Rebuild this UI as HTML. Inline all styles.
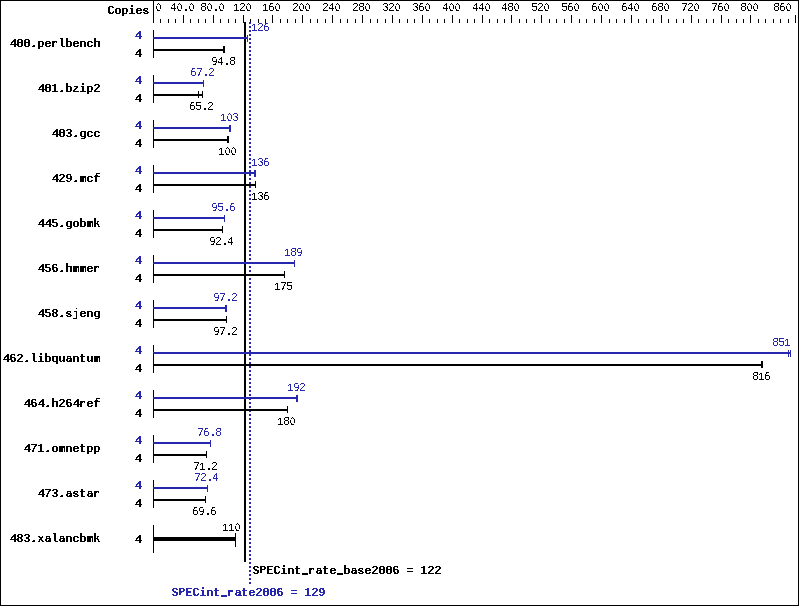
<!DOCTYPE html>
<html><head><meta charset="utf-8"><title>SPECint_rate2006 results</title><style>
html,body{margin:0;padding:0;background:#fff;overflow:hidden}
svg{display:block}
text{font-family:"Liberation Mono",monospace;text-rendering:geometricPrecision}
.z{font-family:"Liberation Sans",sans-serif}
</style></head><body>
<svg width="799" height="606" viewBox="0 0 799 606">
<defs>
<filter id="tr" filterUnits="userSpaceOnUse" x="0" y="0" width="799" height="606"><feComponentTransfer><feFuncA type="discrete" tableValues="0 1"/></feComponentTransfer></filter>
<filter id="tb" filterUnits="userSpaceOnUse" x="0" y="0" width="799" height="606"><feComponentTransfer><feFuncA type="discrete" tableValues="0 1"/></feComponentTransfer></filter>
</defs>
<g shape-rendering="crispEdges">
<rect x="0" y="0" width="799" height="606" fill="#fff"/>
<rect x="0" y="0" width="799" height="1" fill="#000"/>
<rect x="0" y="605" width="799" height="1" fill="#000"/>
<rect x="0" y="0" width="1" height="606" fill="#000"/>
<rect x="798" y="0" width="1" height="606" fill="#000"/>
<rect x="153" y="0" width="1" height="23" fill="#000"/>
<rect x="160" y="19" width="1" height="4" fill="#000"/>
<rect x="168" y="19" width="1" height="4" fill="#000"/>
<rect x="175" y="19" width="1" height="4" fill="#000"/>
<rect x="183" y="15" width="1" height="8" fill="#000"/>
<rect x="190" y="19" width="1" height="4" fill="#000"/>
<rect x="198" y="19" width="1" height="4" fill="#000"/>
<rect x="205" y="19" width="1" height="4" fill="#000"/>
<rect x="213" y="15" width="1" height="8" fill="#000"/>
<rect x="220" y="19" width="1" height="4" fill="#000"/>
<rect x="228" y="19" width="1" height="4" fill="#000"/>
<rect x="235" y="19" width="1" height="4" fill="#000"/>
<rect x="243" y="15" width="1" height="8" fill="#000"/>
<rect x="250" y="19" width="1" height="4" fill="#000"/>
<rect x="258" y="19" width="1" height="4" fill="#000"/>
<rect x="265" y="19" width="1" height="4" fill="#000"/>
<rect x="272" y="15" width="1" height="8" fill="#000"/>
<rect x="280" y="19" width="1" height="4" fill="#000"/>
<rect x="287" y="19" width="1" height="4" fill="#000"/>
<rect x="295" y="19" width="1" height="4" fill="#000"/>
<rect x="302" y="15" width="1" height="8" fill="#000"/>
<rect x="310" y="19" width="1" height="4" fill="#000"/>
<rect x="317" y="19" width="1" height="4" fill="#000"/>
<rect x="325" y="19" width="1" height="4" fill="#000"/>
<rect x="332" y="15" width="1" height="8" fill="#000"/>
<rect x="340" y="19" width="1" height="4" fill="#000"/>
<rect x="347" y="19" width="1" height="4" fill="#000"/>
<rect x="355" y="19" width="1" height="4" fill="#000"/>
<rect x="362" y="15" width="1" height="8" fill="#000"/>
<rect x="370" y="19" width="1" height="4" fill="#000"/>
<rect x="377" y="19" width="1" height="4" fill="#000"/>
<rect x="385" y="19" width="1" height="4" fill="#000"/>
<rect x="392" y="15" width="1" height="8" fill="#000"/>
<rect x="399" y="19" width="1" height="4" fill="#000"/>
<rect x="407" y="19" width="1" height="4" fill="#000"/>
<rect x="414" y="19" width="1" height="4" fill="#000"/>
<rect x="422" y="15" width="1" height="8" fill="#000"/>
<rect x="429" y="19" width="1" height="4" fill="#000"/>
<rect x="437" y="19" width="1" height="4" fill="#000"/>
<rect x="444" y="19" width="1" height="4" fill="#000"/>
<rect x="452" y="15" width="1" height="8" fill="#000"/>
<rect x="459" y="19" width="1" height="4" fill="#000"/>
<rect x="467" y="19" width="1" height="4" fill="#000"/>
<rect x="474" y="19" width="1" height="4" fill="#000"/>
<rect x="482" y="15" width="1" height="8" fill="#000"/>
<rect x="489" y="19" width="1" height="4" fill="#000"/>
<rect x="497" y="19" width="1" height="4" fill="#000"/>
<rect x="504" y="19" width="1" height="4" fill="#000"/>
<rect x="511" y="15" width="1" height="8" fill="#000"/>
<rect x="519" y="19" width="1" height="4" fill="#000"/>
<rect x="526" y="19" width="1" height="4" fill="#000"/>
<rect x="534" y="19" width="1" height="4" fill="#000"/>
<rect x="541" y="15" width="1" height="8" fill="#000"/>
<rect x="549" y="19" width="1" height="4" fill="#000"/>
<rect x="556" y="19" width="1" height="4" fill="#000"/>
<rect x="564" y="19" width="1" height="4" fill="#000"/>
<rect x="571" y="15" width="1" height="8" fill="#000"/>
<rect x="579" y="19" width="1" height="4" fill="#000"/>
<rect x="586" y="19" width="1" height="4" fill="#000"/>
<rect x="594" y="19" width="1" height="4" fill="#000"/>
<rect x="601" y="15" width="1" height="8" fill="#000"/>
<rect x="609" y="19" width="1" height="4" fill="#000"/>
<rect x="616" y="19" width="1" height="4" fill="#000"/>
<rect x="624" y="19" width="1" height="4" fill="#000"/>
<rect x="631" y="15" width="1" height="8" fill="#000"/>
<rect x="638" y="19" width="1" height="4" fill="#000"/>
<rect x="646" y="19" width="1" height="4" fill="#000"/>
<rect x="653" y="19" width="1" height="4" fill="#000"/>
<rect x="661" y="15" width="1" height="8" fill="#000"/>
<rect x="668" y="19" width="1" height="4" fill="#000"/>
<rect x="676" y="19" width="1" height="4" fill="#000"/>
<rect x="683" y="19" width="1" height="4" fill="#000"/>
<rect x="691" y="15" width="1" height="8" fill="#000"/>
<rect x="698" y="19" width="1" height="4" fill="#000"/>
<rect x="706" y="19" width="1" height="4" fill="#000"/>
<rect x="713" y="19" width="1" height="4" fill="#000"/>
<rect x="721" y="15" width="1" height="8" fill="#000"/>
<rect x="728" y="19" width="1" height="4" fill="#000"/>
<rect x="736" y="19" width="1" height="4" fill="#000"/>
<rect x="743" y="19" width="1" height="4" fill="#000"/>
<rect x="750" y="15" width="1" height="8" fill="#000"/>
<rect x="758" y="19" width="1" height="4" fill="#000"/>
<rect x="765" y="19" width="1" height="4" fill="#000"/>
<rect x="773" y="19" width="1" height="4" fill="#000"/>
<rect x="780" y="19" width="1" height="4" fill="#000"/>
<rect x="788" y="19" width="1" height="4" fill="#000"/>
<rect x="795" y="15" width="1" height="8" fill="#000"/>
<rect x="244" y="22" width="2" height="540" fill="#000"/>
<rect x="249" y="22" width="2" height="2" fill="#2626ae"/>
<rect x="249" y="26" width="2" height="2" fill="#2626ae"/>
<rect x="249" y="30" width="2" height="2" fill="#2626ae"/>
<rect x="249" y="34" width="2" height="2" fill="#2626ae"/>
<rect x="249" y="38" width="2" height="2" fill="#2626ae"/>
<rect x="249" y="42" width="2" height="2" fill="#2626ae"/>
<rect x="249" y="46" width="2" height="2" fill="#2626ae"/>
<rect x="249" y="50" width="2" height="2" fill="#2626ae"/>
<rect x="249" y="54" width="2" height="2" fill="#2626ae"/>
<rect x="249" y="58" width="2" height="2" fill="#2626ae"/>
<rect x="249" y="62" width="2" height="2" fill="#2626ae"/>
<rect x="249" y="66" width="2" height="2" fill="#2626ae"/>
<rect x="249" y="70" width="2" height="2" fill="#2626ae"/>
<rect x="249" y="74" width="2" height="2" fill="#2626ae"/>
<rect x="249" y="78" width="2" height="2" fill="#2626ae"/>
<rect x="249" y="82" width="2" height="2" fill="#2626ae"/>
<rect x="249" y="86" width="2" height="2" fill="#2626ae"/>
<rect x="249" y="90" width="2" height="2" fill="#2626ae"/>
<rect x="249" y="94" width="2" height="2" fill="#2626ae"/>
<rect x="249" y="98" width="2" height="2" fill="#2626ae"/>
<rect x="249" y="102" width="2" height="2" fill="#2626ae"/>
<rect x="249" y="106" width="2" height="2" fill="#2626ae"/>
<rect x="249" y="110" width="2" height="2" fill="#2626ae"/>
<rect x="249" y="114" width="2" height="2" fill="#2626ae"/>
<rect x="249" y="118" width="2" height="2" fill="#2626ae"/>
<rect x="249" y="122" width="2" height="2" fill="#2626ae"/>
<rect x="249" y="126" width="2" height="2" fill="#2626ae"/>
<rect x="249" y="130" width="2" height="2" fill="#2626ae"/>
<rect x="249" y="134" width="2" height="2" fill="#2626ae"/>
<rect x="249" y="138" width="2" height="2" fill="#2626ae"/>
<rect x="249" y="142" width="2" height="2" fill="#2626ae"/>
<rect x="249" y="146" width="2" height="2" fill="#2626ae"/>
<rect x="249" y="150" width="2" height="2" fill="#2626ae"/>
<rect x="249" y="154" width="2" height="2" fill="#2626ae"/>
<rect x="249" y="158" width="2" height="2" fill="#2626ae"/>
<rect x="249" y="162" width="2" height="2" fill="#2626ae"/>
<rect x="249" y="166" width="2" height="2" fill="#2626ae"/>
<rect x="249" y="170" width="2" height="2" fill="#2626ae"/>
<rect x="249" y="174" width="2" height="2" fill="#2626ae"/>
<rect x="249" y="178" width="2" height="2" fill="#2626ae"/>
<rect x="249" y="182" width="2" height="2" fill="#2626ae"/>
<rect x="249" y="186" width="2" height="2" fill="#2626ae"/>
<rect x="249" y="190" width="2" height="2" fill="#2626ae"/>
<rect x="249" y="194" width="2" height="2" fill="#2626ae"/>
<rect x="249" y="198" width="2" height="2" fill="#2626ae"/>
<rect x="249" y="202" width="2" height="2" fill="#2626ae"/>
<rect x="249" y="206" width="2" height="2" fill="#2626ae"/>
<rect x="249" y="210" width="2" height="2" fill="#2626ae"/>
<rect x="249" y="214" width="2" height="2" fill="#2626ae"/>
<rect x="249" y="218" width="2" height="2" fill="#2626ae"/>
<rect x="249" y="222" width="2" height="2" fill="#2626ae"/>
<rect x="249" y="226" width="2" height="2" fill="#2626ae"/>
<rect x="249" y="230" width="2" height="2" fill="#2626ae"/>
<rect x="249" y="234" width="2" height="2" fill="#2626ae"/>
<rect x="249" y="238" width="2" height="2" fill="#2626ae"/>
<rect x="249" y="242" width="2" height="2" fill="#2626ae"/>
<rect x="249" y="246" width="2" height="2" fill="#2626ae"/>
<rect x="249" y="250" width="2" height="2" fill="#2626ae"/>
<rect x="249" y="254" width="2" height="2" fill="#2626ae"/>
<rect x="249" y="258" width="2" height="2" fill="#2626ae"/>
<rect x="249" y="262" width="2" height="2" fill="#2626ae"/>
<rect x="249" y="266" width="2" height="2" fill="#2626ae"/>
<rect x="249" y="270" width="2" height="2" fill="#2626ae"/>
<rect x="249" y="274" width="2" height="2" fill="#2626ae"/>
<rect x="249" y="278" width="2" height="2" fill="#2626ae"/>
<rect x="249" y="282" width="2" height="2" fill="#2626ae"/>
<rect x="249" y="286" width="2" height="2" fill="#2626ae"/>
<rect x="249" y="290" width="2" height="2" fill="#2626ae"/>
<rect x="249" y="294" width="2" height="2" fill="#2626ae"/>
<rect x="249" y="298" width="2" height="2" fill="#2626ae"/>
<rect x="249" y="302" width="2" height="2" fill="#2626ae"/>
<rect x="249" y="306" width="2" height="2" fill="#2626ae"/>
<rect x="249" y="310" width="2" height="2" fill="#2626ae"/>
<rect x="249" y="314" width="2" height="2" fill="#2626ae"/>
<rect x="249" y="318" width="2" height="2" fill="#2626ae"/>
<rect x="249" y="322" width="2" height="2" fill="#2626ae"/>
<rect x="249" y="326" width="2" height="2" fill="#2626ae"/>
<rect x="249" y="330" width="2" height="2" fill="#2626ae"/>
<rect x="249" y="334" width="2" height="2" fill="#2626ae"/>
<rect x="249" y="338" width="2" height="2" fill="#2626ae"/>
<rect x="249" y="342" width="2" height="2" fill="#2626ae"/>
<rect x="249" y="346" width="2" height="2" fill="#2626ae"/>
<rect x="249" y="350" width="2" height="2" fill="#2626ae"/>
<rect x="249" y="354" width="2" height="2" fill="#2626ae"/>
<rect x="249" y="358" width="2" height="2" fill="#2626ae"/>
<rect x="249" y="362" width="2" height="2" fill="#2626ae"/>
<rect x="249" y="366" width="2" height="2" fill="#2626ae"/>
<rect x="249" y="370" width="2" height="2" fill="#2626ae"/>
<rect x="249" y="374" width="2" height="2" fill="#2626ae"/>
<rect x="249" y="378" width="2" height="2" fill="#2626ae"/>
<rect x="249" y="382" width="2" height="2" fill="#2626ae"/>
<rect x="249" y="386" width="2" height="2" fill="#2626ae"/>
<rect x="249" y="390" width="2" height="2" fill="#2626ae"/>
<rect x="249" y="394" width="2" height="2" fill="#2626ae"/>
<rect x="249" y="398" width="2" height="2" fill="#2626ae"/>
<rect x="249" y="402" width="2" height="2" fill="#2626ae"/>
<rect x="249" y="406" width="2" height="2" fill="#2626ae"/>
<rect x="249" y="410" width="2" height="2" fill="#2626ae"/>
<rect x="249" y="414" width="2" height="2" fill="#2626ae"/>
<rect x="249" y="418" width="2" height="2" fill="#2626ae"/>
<rect x="249" y="422" width="2" height="2" fill="#2626ae"/>
<rect x="249" y="426" width="2" height="2" fill="#2626ae"/>
<rect x="249" y="430" width="2" height="2" fill="#2626ae"/>
<rect x="249" y="434" width="2" height="2" fill="#2626ae"/>
<rect x="249" y="438" width="2" height="2" fill="#2626ae"/>
<rect x="249" y="442" width="2" height="2" fill="#2626ae"/>
<rect x="249" y="446" width="2" height="2" fill="#2626ae"/>
<rect x="249" y="450" width="2" height="2" fill="#2626ae"/>
<rect x="249" y="454" width="2" height="2" fill="#2626ae"/>
<rect x="249" y="458" width="2" height="2" fill="#2626ae"/>
<rect x="249" y="462" width="2" height="2" fill="#2626ae"/>
<rect x="249" y="466" width="2" height="2" fill="#2626ae"/>
<rect x="249" y="470" width="2" height="2" fill="#2626ae"/>
<rect x="249" y="474" width="2" height="2" fill="#2626ae"/>
<rect x="249" y="478" width="2" height="2" fill="#2626ae"/>
<rect x="249" y="482" width="2" height="2" fill="#2626ae"/>
<rect x="249" y="486" width="2" height="2" fill="#2626ae"/>
<rect x="249" y="490" width="2" height="2" fill="#2626ae"/>
<rect x="249" y="494" width="2" height="2" fill="#2626ae"/>
<rect x="249" y="498" width="2" height="2" fill="#2626ae"/>
<rect x="249" y="502" width="2" height="2" fill="#2626ae"/>
<rect x="249" y="506" width="2" height="2" fill="#2626ae"/>
<rect x="249" y="510" width="2" height="2" fill="#2626ae"/>
<rect x="249" y="514" width="2" height="2" fill="#2626ae"/>
<rect x="249" y="518" width="2" height="2" fill="#2626ae"/>
<rect x="249" y="522" width="2" height="2" fill="#2626ae"/>
<rect x="249" y="526" width="2" height="2" fill="#2626ae"/>
<rect x="249" y="530" width="2" height="2" fill="#2626ae"/>
<rect x="249" y="534" width="2" height="2" fill="#2626ae"/>
<rect x="249" y="538" width="2" height="2" fill="#2626ae"/>
<rect x="249" y="542" width="2" height="2" fill="#2626ae"/>
<rect x="249" y="546" width="2" height="2" fill="#2626ae"/>
<rect x="249" y="550" width="2" height="2" fill="#2626ae"/>
<rect x="249" y="554" width="2" height="2" fill="#2626ae"/>
<rect x="249" y="558" width="2" height="2" fill="#2626ae"/>
<rect x="249" y="562" width="2" height="2" fill="#2626ae"/>
<rect x="249" y="566" width="2" height="2" fill="#2626ae"/>
<rect x="249" y="570" width="2" height="2" fill="#2626ae"/>
<rect x="249" y="574" width="2" height="2" fill="#2626ae"/>
<rect x="249" y="578" width="2" height="2" fill="#2626ae"/>
<rect x="249" y="582" width="2" height="2" fill="#2626ae"/>
<rect x="153" y="30" width="1" height="28" fill="#000"/>
<rect x="153" y="37" width="95" height="2" fill="#2626ae"/>
<rect x="247" y="35" width="1" height="7" fill="#2626ae"/>
<rect x="153" y="49" width="72" height="2" fill="#000"/>
<rect x="223" y="46" width="1" height="7" fill="#000"/>
<rect x="224" y="46" width="1" height="7" fill="#000"/>
<rect x="153" y="75" width="1" height="28" fill="#000"/>
<rect x="153" y="82" width="51" height="2" fill="#2626ae"/>
<rect x="203" y="80" width="1" height="7" fill="#2626ae"/>
<rect x="153" y="94" width="50" height="2" fill="#000"/>
<rect x="198" y="91" width="1" height="7" fill="#000"/>
<rect x="202" y="91" width="1" height="7" fill="#000"/>
<rect x="153" y="120" width="1" height="28" fill="#000"/>
<rect x="153" y="127" width="78" height="2" fill="#2626ae"/>
<rect x="229" y="125" width="1" height="7" fill="#2626ae"/>
<rect x="230" y="125" width="1" height="7" fill="#2626ae"/>
<rect x="153" y="139" width="76" height="2" fill="#000"/>
<rect x="227" y="136" width="1" height="7" fill="#000"/>
<rect x="228" y="136" width="1" height="7" fill="#000"/>
<rect x="153" y="165" width="1" height="28" fill="#000"/>
<rect x="153" y="172" width="103" height="2" fill="#2626ae"/>
<rect x="254" y="170" width="1" height="7" fill="#2626ae"/>
<rect x="255" y="170" width="1" height="7" fill="#2626ae"/>
<rect x="153" y="184" width="103" height="2" fill="#000"/>
<rect x="255" y="181" width="1" height="7" fill="#000"/>
<rect x="153" y="210" width="1" height="28" fill="#000"/>
<rect x="153" y="217" width="72" height="2" fill="#2626ae"/>
<rect x="224" y="215" width="1" height="7" fill="#2626ae"/>
<rect x="153" y="229" width="70" height="2" fill="#000"/>
<rect x="222" y="226" width="1" height="7" fill="#000"/>
<rect x="153" y="255" width="1" height="28" fill="#000"/>
<rect x="153" y="262" width="142" height="2" fill="#2626ae"/>
<rect x="294" y="260" width="1" height="7" fill="#2626ae"/>
<rect x="153" y="274" width="132" height="2" fill="#000"/>
<rect x="284" y="271" width="1" height="7" fill="#000"/>
<rect x="153" y="300" width="1" height="28" fill="#000"/>
<rect x="153" y="307" width="74" height="2" fill="#2626ae"/>
<rect x="225" y="305" width="1" height="7" fill="#2626ae"/>
<rect x="226" y="305" width="1" height="7" fill="#2626ae"/>
<rect x="153" y="319" width="74" height="2" fill="#000"/>
<rect x="226" y="316" width="1" height="7" fill="#000"/>
<rect x="153" y="345" width="1" height="28" fill="#000"/>
<rect x="153" y="352" width="638" height="2" fill="#2626ae"/>
<rect x="788" y="350" width="1" height="7" fill="#2626ae"/>
<rect x="790" y="350" width="1" height="7" fill="#2626ae"/>
<rect x="153" y="364" width="610" height="2" fill="#000"/>
<rect x="761" y="361" width="1" height="7" fill="#000"/>
<rect x="762" y="361" width="1" height="7" fill="#000"/>
<rect x="153" y="390" width="1" height="28" fill="#000"/>
<rect x="153" y="397" width="145" height="2" fill="#2626ae"/>
<rect x="296" y="395" width="1" height="7" fill="#2626ae"/>
<rect x="297" y="395" width="1" height="7" fill="#2626ae"/>
<rect x="153" y="409" width="135" height="2" fill="#000"/>
<rect x="287" y="406" width="1" height="7" fill="#000"/>
<rect x="153" y="435" width="1" height="28" fill="#000"/>
<rect x="153" y="442" width="58" height="2" fill="#2626ae"/>
<rect x="210" y="440" width="1" height="7" fill="#2626ae"/>
<rect x="153" y="454" width="54" height="2" fill="#000"/>
<rect x="206" y="451" width="1" height="7" fill="#000"/>
<rect x="153" y="480" width="1" height="28" fill="#000"/>
<rect x="153" y="487" width="55" height="2" fill="#2626ae"/>
<rect x="207" y="485" width="1" height="7" fill="#2626ae"/>
<rect x="153" y="499" width="53" height="2" fill="#000"/>
<rect x="205" y="496" width="1" height="7" fill="#000"/>
<rect x="153" y="525" width="1" height="28" fill="#000"/>
<rect x="153" y="537" width="83" height="4" fill="#000"/>
<rect x="235" y="533" width="1" height="14" fill="#000"/>
</g>
<g filter="url(#tr)" font-size="12.1">
<g><text class="z" transform="translate(156.0 0) scale(0.85 1)" x="-0.147" y="10.5" font-size="11">0</text></g>
<g><text transform="translate(171.0 0) scale(0.9 1)" x="-1.250" y="10.5" font-size="12">4</text><text class="z" transform="translate(177.0 0) scale(0.85 1)" x="-0.147" y="10.5" font-size="11">0</text><text transform="translate(183.0 0) scale(1.0 1)" x="-0.875" y="10.5" font-size="12.5">.</text><text class="z" transform="translate(189.0 0) scale(0.85 1)" x="-0.147" y="10.5" font-size="11">0</text></g>
<g><text transform="translate(201.0 0) scale(0.95 1)" x="-1.184" y="10.5" font-size="12.5">8</text><text class="z" transform="translate(207.0 0) scale(0.85 1)" x="-0.147" y="10.5" font-size="11">0</text><text transform="translate(213.0 0) scale(1.0 1)" x="-0.875" y="10.5" font-size="12.5">.</text><text class="z" transform="translate(219.0 0) scale(0.85 1)" x="-0.147" y="10.5" font-size="11">0</text></g>
<g><text transform="translate(234.0 0) scale(0.95 1)" x="-1.184" y="10.5" font-size="11">1</text><text transform="translate(240.0 0) scale(0.9 1)" x="-1.250" y="10.5" font-size="12.5">2</text><text class="z" transform="translate(246.0 0) scale(0.85 1)" x="-0.147" y="10.5" font-size="11">0</text></g>
<g><text transform="translate(263.0 0) scale(0.95 1)" x="-1.184" y="10.5" font-size="11">1</text><text transform="translate(269.0 0) scale(0.9 1)" x="-0.972" y="10.5" font-size="12">6</text><text class="z" transform="translate(275.0 0) scale(0.85 1)" x="-0.147" y="10.5" font-size="11">0</text></g>
<g><text transform="translate(293.0 0) scale(0.9 1)" x="-1.250" y="10.5" font-size="12.5">2</text><text class="z" transform="translate(299.0 0) scale(0.85 1)" x="-0.147" y="10.5" font-size="11">0</text><text class="z" transform="translate(305.0 0) scale(0.85 1)" x="-0.147" y="10.5" font-size="11">0</text></g>
<g><text transform="translate(323.0 0) scale(0.9 1)" x="-1.250" y="10.5" font-size="12.5">2</text><text transform="translate(329.0 0) scale(0.9 1)" x="-1.250" y="10.5" font-size="12">4</text><text class="z" transform="translate(335.0 0) scale(0.85 1)" x="-0.147" y="10.5" font-size="11">0</text></g>
<g><text transform="translate(353.0 0) scale(0.9 1)" x="-1.250" y="10.5" font-size="12.5">2</text><text transform="translate(359.0 0) scale(0.95 1)" x="-1.184" y="10.5" font-size="12.5">8</text><text class="z" transform="translate(365.0 0) scale(0.85 1)" x="-0.147" y="10.5" font-size="11">0</text></g>
<g><text transform="translate(383.0 0) scale(0.85 1)" x="-0.735" y="10.5" font-size="12.5">3</text><text transform="translate(389.0 0) scale(0.9 1)" x="-1.250" y="10.5" font-size="12.5">2</text><text class="z" transform="translate(395.0 0) scale(0.85 1)" x="-0.147" y="10.5" font-size="11">0</text></g>
<g><text transform="translate(413.0 0) scale(0.85 1)" x="-0.735" y="10.5" font-size="12.5">3</text><text transform="translate(419.0 0) scale(0.9 1)" x="-0.972" y="10.5" font-size="12">6</text><text class="z" transform="translate(425.0 0) scale(0.85 1)" x="-0.147" y="10.5" font-size="11">0</text></g>
<g><text transform="translate(443.0 0) scale(0.9 1)" x="-1.250" y="10.5" font-size="12">4</text><text class="z" transform="translate(449.0 0) scale(0.85 1)" x="-0.147" y="10.5" font-size="11">0</text><text class="z" transform="translate(455.0 0) scale(0.85 1)" x="-0.147" y="10.5" font-size="11">0</text></g>
<g><text transform="translate(473.0 0) scale(0.9 1)" x="-1.250" y="10.5" font-size="12">4</text><text transform="translate(479.0 0) scale(0.9 1)" x="-1.250" y="10.5" font-size="12">4</text><text class="z" transform="translate(485.0 0) scale(0.85 1)" x="-0.147" y="10.5" font-size="11">0</text></g>
<g><text transform="translate(502.0 0) scale(0.9 1)" x="-1.250" y="10.5" font-size="12">4</text><text transform="translate(508.0 0) scale(0.95 1)" x="-1.184" y="10.5" font-size="12.5">8</text><text class="z" transform="translate(514.0 0) scale(0.85 1)" x="-0.147" y="10.5" font-size="11">0</text></g>
<g><text transform="translate(532.0 0) scale(0.95 1)" x="-1.184" y="10.5" font-size="12.5">5</text><text transform="translate(538.0 0) scale(0.9 1)" x="-1.250" y="10.5" font-size="12.5">2</text><text class="z" transform="translate(544.0 0) scale(0.85 1)" x="-0.147" y="10.5" font-size="11">0</text></g>
<g><text transform="translate(562.0 0) scale(0.95 1)" x="-1.184" y="10.5" font-size="12.5">5</text><text transform="translate(568.0 0) scale(0.9 1)" x="-0.972" y="10.5" font-size="12">6</text><text class="z" transform="translate(574.0 0) scale(0.85 1)" x="-0.147" y="10.5" font-size="11">0</text></g>
<g><text transform="translate(592.0 0) scale(0.9 1)" x="-0.972" y="10.5" font-size="12">6</text><text class="z" transform="translate(598.0 0) scale(0.85 1)" x="-0.147" y="10.5" font-size="11">0</text><text class="z" transform="translate(604.0 0) scale(0.85 1)" x="-0.147" y="10.5" font-size="11">0</text></g>
<g><text transform="translate(622.0 0) scale(0.9 1)" x="-0.972" y="10.5" font-size="12">6</text><text transform="translate(628.0 0) scale(0.9 1)" x="-1.250" y="10.5" font-size="12">4</text><text class="z" transform="translate(634.0 0) scale(0.85 1)" x="-0.147" y="10.5" font-size="11">0</text></g>
<g><text transform="translate(652.0 0) scale(0.9 1)" x="-0.972" y="10.5" font-size="12">6</text><text transform="translate(658.0 0) scale(0.95 1)" x="-1.184" y="10.5" font-size="12.5">8</text><text class="z" transform="translate(664.0 0) scale(0.85 1)" x="-0.147" y="10.5" font-size="11">0</text></g>
<g><text transform="translate(682.0 0) scale(0.95 1)" x="-1.184" y="10.5" font-size="12">7</text><text transform="translate(688.0 0) scale(0.9 1)" x="-1.250" y="10.5" font-size="12.5">2</text><text class="z" transform="translate(694.0 0) scale(0.85 1)" x="-0.147" y="10.5" font-size="11">0</text></g>
<g><text transform="translate(712.0 0) scale(0.95 1)" x="-1.184" y="10.5" font-size="12">7</text><text transform="translate(718.0 0) scale(0.9 1)" x="-0.972" y="10.5" font-size="12">6</text><text class="z" transform="translate(724.0 0) scale(0.85 1)" x="-0.147" y="10.5" font-size="11">0</text></g>
<g><text transform="translate(741.0 0) scale(0.95 1)" x="-1.184" y="10.5" font-size="12.5">8</text><text class="z" transform="translate(747.0 0) scale(0.85 1)" x="-0.147" y="10.5" font-size="11">0</text><text class="z" transform="translate(753.0 0) scale(0.85 1)" x="-0.147" y="10.5" font-size="11">0</text></g>
<g><text transform="translate(774.0 0) scale(0.95 1)" x="-1.184" y="10.5" font-size="12.5">8</text><text transform="translate(780.0 0) scale(0.9 1)" x="-0.972" y="10.5" font-size="12">6</text><text class="z" transform="translate(786.0 0) scale(0.85 1)" x="-0.147" y="10.5" font-size="11">0</text></g>
<g><text transform="translate(252.0 0) scale(0.95 1)" x="-1.184" y="30.5" font-size="11" fill="#2626ae">1</text><text transform="translate(258.0 0) scale(0.9 1)" x="-1.250" y="30.5" font-size="12.5" fill="#2626ae">2</text><text transform="translate(264.0 0) scale(0.9 1)" x="-0.972" y="30.5" font-size="12" fill="#2626ae">6</text></g>
<g><text transform="translate(212.0 0) scale(0.8 1)" x="-0.781" y="64.5" font-size="12.5">9</text><text transform="translate(218.0 0) scale(0.9 1)" x="-1.250" y="64.5" font-size="12">4</text><text transform="translate(224.0 0) scale(1.0 1)" x="-0.875" y="64.5" font-size="12.5">.</text><text transform="translate(230.0 0) scale(0.95 1)" x="-1.184" y="64.5" font-size="12.5">8</text></g>
<g><text transform="translate(191.0 0) scale(0.9 1)" x="-0.972" y="75.5" font-size="12" fill="#2626ae">6</text><text transform="translate(197.0 0) scale(0.95 1)" x="-1.184" y="75.5" font-size="12" fill="#2626ae">7</text><text transform="translate(203.0 0) scale(1.0 1)" x="-0.875" y="75.5" font-size="12.5" fill="#2626ae">.</text><text transform="translate(209.0 0) scale(0.9 1)" x="-1.250" y="75.5" font-size="12.5" fill="#2626ae">2</text></g>
<g><text transform="translate(190.0 0) scale(0.9 1)" x="-0.972" y="109.5" font-size="12">6</text><text transform="translate(196.0 0) scale(0.95 1)" x="-1.184" y="109.5" font-size="12.5">5</text><text transform="translate(202.0 0) scale(1.0 1)" x="-0.875" y="109.5" font-size="12.5">.</text><text transform="translate(208.0 0) scale(0.9 1)" x="-1.250" y="109.5" font-size="12.5">2</text></g>
<g><text transform="translate(221.0 0) scale(0.95 1)" x="-1.184" y="120.5" font-size="11" fill="#2626ae">1</text><text class="z" transform="translate(227.0 0) scale(0.85 1)" x="-0.147" y="120.5" font-size="11" fill="#2626ae">0</text><text transform="translate(233.0 0) scale(0.85 1)" x="-0.735" y="120.5" font-size="12.5" fill="#2626ae">3</text></g>
<g><text transform="translate(219.0 0) scale(0.95 1)" x="-1.184" y="154.5" font-size="11">1</text><text class="z" transform="translate(225.0 0) scale(0.85 1)" x="-0.147" y="154.5" font-size="11">0</text><text class="z" transform="translate(231.0 0) scale(0.85 1)" x="-0.147" y="154.5" font-size="11">0</text></g>
<g><text transform="translate(252.0 0) scale(0.95 1)" x="-1.184" y="165.5" font-size="11" fill="#2626ae">1</text><text transform="translate(258.0 0) scale(0.85 1)" x="-0.735" y="165.5" font-size="12.5" fill="#2626ae">3</text><text transform="translate(264.0 0) scale(0.9 1)" x="-0.972" y="165.5" font-size="12" fill="#2626ae">6</text></g>
<g><text transform="translate(252.0 0) scale(0.95 1)" x="-1.184" y="199.5" font-size="11">1</text><text transform="translate(258.0 0) scale(0.85 1)" x="-0.735" y="199.5" font-size="12.5">3</text><text transform="translate(264.0 0) scale(0.9 1)" x="-0.972" y="199.5" font-size="12">6</text></g>
<g><text transform="translate(212.0 0) scale(0.8 1)" x="-0.781" y="210.5" font-size="12.5" fill="#2626ae">9</text><text transform="translate(218.0 0) scale(0.95 1)" x="-1.184" y="210.5" font-size="12.5" fill="#2626ae">5</text><text transform="translate(224.0 0) scale(1.0 1)" x="-0.875" y="210.5" font-size="12.5" fill="#2626ae">.</text><text transform="translate(230.0 0) scale(0.9 1)" x="-0.972" y="210.5" font-size="12" fill="#2626ae">6</text></g>
<g><text transform="translate(210.0 0) scale(0.8 1)" x="-0.781" y="244.5" font-size="12.5">9</text><text transform="translate(216.0 0) scale(0.9 1)" x="-1.250" y="244.5" font-size="12.5">2</text><text transform="translate(222.0 0) scale(1.0 1)" x="-0.875" y="244.5" font-size="12.5">.</text><text transform="translate(228.0 0) scale(0.9 1)" x="-1.250" y="244.5" font-size="12">4</text></g>
<g><text transform="translate(285.0 0) scale(0.95 1)" x="-1.184" y="255.5" font-size="11" fill="#2626ae">1</text><text transform="translate(291.0 0) scale(0.95 1)" x="-1.184" y="255.5" font-size="12.5" fill="#2626ae">8</text><text transform="translate(297.0 0) scale(0.8 1)" x="-0.781" y="255.5" font-size="12.5" fill="#2626ae">9</text></g>
<g><text transform="translate(275.0 0) scale(0.95 1)" x="-1.184" y="289.5" font-size="11">1</text><text transform="translate(281.0 0) scale(0.95 1)" x="-1.184" y="289.5" font-size="12">7</text><text transform="translate(287.0 0) scale(0.95 1)" x="-1.184" y="289.5" font-size="12.5">5</text></g>
<g><text transform="translate(214.0 0) scale(0.8 1)" x="-0.781" y="300.5" font-size="12.5" fill="#2626ae">9</text><text transform="translate(220.0 0) scale(0.95 1)" x="-1.184" y="300.5" font-size="12" fill="#2626ae">7</text><text transform="translate(226.0 0) scale(1.0 1)" x="-0.875" y="300.5" font-size="12.5" fill="#2626ae">.</text><text transform="translate(232.0 0) scale(0.9 1)" x="-1.250" y="300.5" font-size="12.5" fill="#2626ae">2</text></g>
<g><text transform="translate(214.0 0) scale(0.8 1)" x="-0.781" y="334.5" font-size="12.5">9</text><text transform="translate(220.0 0) scale(0.95 1)" x="-1.184" y="334.5" font-size="12">7</text><text transform="translate(226.0 0) scale(1.0 1)" x="-0.875" y="334.5" font-size="12.5">.</text><text transform="translate(232.0 0) scale(0.9 1)" x="-1.250" y="334.5" font-size="12.5">2</text></g>
<g><text transform="translate(773.0 0) scale(0.95 1)" x="-1.184" y="345.5" font-size="12.5" fill="#2626ae">8</text><text transform="translate(779.0 0) scale(0.95 1)" x="-1.184" y="345.5" font-size="12.5" fill="#2626ae">5</text><text transform="translate(785.0 0) scale(0.95 1)" x="-1.184" y="345.5" font-size="11" fill="#2626ae">1</text></g>
<g><text transform="translate(753.0 0) scale(0.95 1)" x="-1.184" y="379.5" font-size="12.5">8</text><text transform="translate(759.0 0) scale(0.95 1)" x="-1.184" y="379.5" font-size="11">1</text><text transform="translate(765.0 0) scale(0.9 1)" x="-0.972" y="379.5" font-size="12">6</text></g>
<g><text transform="translate(288.0 0) scale(0.95 1)" x="-1.184" y="390.5" font-size="11" fill="#2626ae">1</text><text transform="translate(294.0 0) scale(0.8 1)" x="-0.781" y="390.5" font-size="12.5" fill="#2626ae">9</text><text transform="translate(300.0 0) scale(0.9 1)" x="-1.250" y="390.5" font-size="12.5" fill="#2626ae">2</text></g>
<g><text transform="translate(278.0 0) scale(0.95 1)" x="-1.184" y="424.5" font-size="11">1</text><text transform="translate(284.0 0) scale(0.95 1)" x="-1.184" y="424.5" font-size="12.5">8</text><text class="z" transform="translate(290.0 0) scale(0.85 1)" x="-0.147" y="424.5" font-size="11">0</text></g>
<g><text transform="translate(198.0 0) scale(0.95 1)" x="-1.184" y="435.5" font-size="12" fill="#2626ae">7</text><text transform="translate(204.0 0) scale(0.9 1)" x="-0.972" y="435.5" font-size="12" fill="#2626ae">6</text><text transform="translate(210.0 0) scale(1.0 1)" x="-0.875" y="435.5" font-size="12.5" fill="#2626ae">.</text><text transform="translate(216.0 0) scale(0.95 1)" x="-1.184" y="435.5" font-size="12.5" fill="#2626ae">8</text></g>
<g><text transform="translate(194.0 0) scale(0.95 1)" x="-1.184" y="469.5" font-size="12">7</text><text transform="translate(200.0 0) scale(0.95 1)" x="-1.184" y="469.5" font-size="11">1</text><text transform="translate(206.0 0) scale(1.0 1)" x="-0.875" y="469.5" font-size="12.5">.</text><text transform="translate(212.0 0) scale(0.9 1)" x="-1.250" y="469.5" font-size="12.5">2</text></g>
<g><text transform="translate(195.0 0) scale(0.95 1)" x="-1.184" y="480.5" font-size="12" fill="#2626ae">7</text><text transform="translate(201.0 0) scale(0.9 1)" x="-1.250" y="480.5" font-size="12.5" fill="#2626ae">2</text><text transform="translate(207.0 0) scale(1.0 1)" x="-0.875" y="480.5" font-size="12.5" fill="#2626ae">.</text><text transform="translate(213.0 0) scale(0.9 1)" x="-1.250" y="480.5" font-size="12" fill="#2626ae">4</text></g>
<g><text transform="translate(193.0 0) scale(0.9 1)" x="-0.972" y="514.5" font-size="12">6</text><text transform="translate(199.0 0) scale(0.8 1)" x="-0.781" y="514.5" font-size="12.5">9</text><text transform="translate(205.0 0) scale(1.0 1)" x="-0.875" y="514.5" font-size="12.5">.</text><text transform="translate(211.0 0) scale(0.9 1)" x="-0.972" y="514.5" font-size="12">6</text></g>
<g><text transform="translate(223.0 0) scale(0.95 1)" x="-1.184" y="530.5" font-size="11">1</text><text transform="translate(229.0 0) scale(0.95 1)" x="-1.184" y="530.5" font-size="11">1</text><text class="z" transform="translate(235.0 0) scale(0.85 1)" x="-0.147" y="530.5" font-size="11">0</text></g>
</g>
<g filter="url(#tb)" font-size="12.25" font-weight="bold">
<text y="14"><tspan x="107.125" font-size="12.5">C</tspan><tspan x="114.375" font-size="11.5">o</tspan><tspan x="121.125" font-size="11.75">p</tspan><tspan x="128.375" font-size="11.75" stroke="#000" stroke-width="0.3">i</tspan><tspan x="135.375" font-size="11.25" stroke="#000" stroke-width="0.3">e</tspan><tspan x="142.375" font-size="11.25" stroke="#000" stroke-width="0.3">s</tspan></text>
<text y="47"><tspan x="9.875" font-size="11.75" stroke="#000" stroke-width="0.15">4</tspan><tspan x="16.125" font-size="12.75" stroke="#000" stroke-width="0.15">0</tspan><tspan x="23.125" font-size="12.75" stroke="#000" stroke-width="0.15">0</tspan><tspan x="29.875" stroke="#000" stroke-width="0.45">.</tspan><tspan x="37.125" font-size="11.75">p</tspan><tspan x="44.375" font-size="11.25" stroke="#000" stroke-width="0.3">e</tspan><tspan x="50.875" font-size="11" stroke="#000" stroke-width="0.15">r</tspan><tspan x="58.125" font-size="12">l</tspan><tspan x="65.125" font-size="12">b</tspan><tspan x="72.375" font-size="11.25" stroke="#000" stroke-width="0.3">e</tspan><tspan x="79.375" font-size="11.5">n</tspan><tspan x="86.375" font-size="11.5" stroke="#000" stroke-width="0.15">c</tspan><tspan x="93.125">h</tspan></text>
<text y="39" fill="#2626ae"><tspan x="134.875" font-size="11.75" stroke="#2626ae" stroke-width="0.15">4</tspan></text>
<text y="57"><tspan x="134.875" font-size="11.75" stroke="#000" stroke-width="0.15">4</tspan></text>
<text y="92"><tspan x="37.875" font-size="11.75" stroke="#000" stroke-width="0.15">4</tspan><tspan x="44.125" font-size="12.75" stroke="#000" stroke-width="0.15">0</tspan><tspan x="51.125">1</tspan><tspan x="57.875" stroke="#000" stroke-width="0.45">.</tspan><tspan x="65.125" font-size="12">b</tspan><tspan x="72.125">z</tspan><tspan x="79.375" font-size="11.75" stroke="#000" stroke-width="0.3">i</tspan><tspan x="86.125" font-size="11.75">p</tspan><tspan x="93.125">2</tspan></text>
<text y="84" fill="#2626ae"><tspan x="134.875" font-size="11.75" stroke="#2626ae" stroke-width="0.15">4</tspan></text>
<text y="102"><tspan x="134.875" font-size="11.75" stroke="#000" stroke-width="0.15">4</tspan></text>
<text y="137"><tspan x="51.875" font-size="11.75" stroke="#000" stroke-width="0.15">4</tspan><tspan x="58.125" font-size="12.75" stroke="#000" stroke-width="0.15">0</tspan><tspan x="65.125">3</tspan><tspan x="71.875" stroke="#000" stroke-width="0.45">.</tspan><tspan x="79.125">g</tspan><tspan x="86.375" font-size="11.5" stroke="#000" stroke-width="0.15">c</tspan><tspan x="93.375" font-size="11.5" stroke="#000" stroke-width="0.15">c</tspan></text>
<text y="129" fill="#2626ae"><tspan x="134.875" font-size="11.75" stroke="#2626ae" stroke-width="0.15">4</tspan></text>
<text y="147"><tspan x="134.875" font-size="11.75" stroke="#000" stroke-width="0.15">4</tspan></text>
<text y="182"><tspan x="51.875" font-size="11.75" stroke="#000" stroke-width="0.15">4</tspan><tspan x="58.125">2</tspan><tspan x="65.125">9</tspan><tspan x="71.875" stroke="#000" stroke-width="0.45">.</tspan><tspan x="79.625" font-size="11" stroke="#000" stroke-width="0.2">m</tspan><tspan x="86.375" font-size="11.5" stroke="#000" stroke-width="0.15">c</tspan><tspan x="93.125">f</tspan></text>
<text y="174" fill="#2626ae"><tspan x="134.875" font-size="11.75" stroke="#2626ae" stroke-width="0.15">4</tspan></text>
<text y="192"><tspan x="134.875" font-size="11.75" stroke="#000" stroke-width="0.15">4</tspan></text>
<text y="227"><tspan x="37.875" font-size="11.75" stroke="#000" stroke-width="0.15">4</tspan><tspan x="44.875" font-size="11.75" stroke="#000" stroke-width="0.15">4</tspan><tspan x="51.125">5</tspan><tspan x="57.875" stroke="#000" stroke-width="0.45">.</tspan><tspan x="65.125">g</tspan><tspan x="72.375" font-size="11.5">o</tspan><tspan x="79.125" font-size="12">b</tspan><tspan x="86.625" font-size="11" stroke="#000" stroke-width="0.2">m</tspan><tspan x="93.125">k</tspan></text>
<text y="219" fill="#2626ae"><tspan x="134.875" font-size="11.75" stroke="#2626ae" stroke-width="0.15">4</tspan></text>
<text y="237"><tspan x="134.875" font-size="11.75" stroke="#000" stroke-width="0.15">4</tspan></text>
<text y="272"><tspan x="37.875" font-size="11.75" stroke="#000" stroke-width="0.15">4</tspan><tspan x="44.125">5</tspan><tspan x="51.125">6</tspan><tspan x="57.875" stroke="#000" stroke-width="0.45">.</tspan><tspan x="65.125">h</tspan><tspan x="72.625" font-size="11" stroke="#000" stroke-width="0.2">m</tspan><tspan x="79.625" font-size="11" stroke="#000" stroke-width="0.2">m</tspan><tspan x="86.375" font-size="11.25" stroke="#000" stroke-width="0.3">e</tspan><tspan x="92.875" font-size="11" stroke="#000" stroke-width="0.15">r</tspan></text>
<text y="264" fill="#2626ae"><tspan x="134.875" font-size="11.75" stroke="#2626ae" stroke-width="0.15">4</tspan></text>
<text y="282"><tspan x="134.875" font-size="11.75" stroke="#000" stroke-width="0.15">4</tspan></text>
<text y="317"><tspan x="37.875" font-size="11.75" stroke="#000" stroke-width="0.15">4</tspan><tspan x="44.125">5</tspan><tspan x="51.125">8</tspan><tspan x="57.875" stroke="#000" stroke-width="0.45">.</tspan><tspan x="65.375" font-size="11.25" stroke="#000" stroke-width="0.3">s</tspan><tspan x="72.125">j</tspan><tspan x="79.375" font-size="11.25" stroke="#000" stroke-width="0.3">e</tspan><tspan x="86.375" font-size="11.5">n</tspan><tspan x="93.125">g</tspan></text>
<text y="309" fill="#2626ae"><tspan x="134.875" font-size="11.75" stroke="#2626ae" stroke-width="0.15">4</tspan></text>
<text y="327"><tspan x="134.875" font-size="11.75" stroke="#000" stroke-width="0.15">4</tspan></text>
<text y="362"><tspan x="2.875" font-size="11.75" stroke="#000" stroke-width="0.15">4</tspan><tspan x="9.125">6</tspan><tspan x="16.125">2</tspan><tspan x="22.875" stroke="#000" stroke-width="0.45">.</tspan><tspan x="30.125" font-size="12">l</tspan><tspan x="37.375" font-size="11.75" stroke="#000" stroke-width="0.3">i</tspan><tspan x="44.125" font-size="12">b</tspan><tspan x="51.125">q</tspan><tspan x="58.125">u</tspan><tspan x="65.625" font-size="11.5" stroke="#000" stroke-width="0.15">a</tspan><tspan x="72.375" font-size="11.5">n</tspan><tspan x="79.125" font-size="11.25" stroke="#000" stroke-width="0.3">t</tspan><tspan x="86.125">u</tspan><tspan x="93.625" font-size="11" stroke="#000" stroke-width="0.2">m</tspan></text>
<text y="354" fill="#2626ae"><tspan x="134.875" font-size="11.75" stroke="#2626ae" stroke-width="0.15">4</tspan></text>
<text y="372"><tspan x="134.875" font-size="11.75" stroke="#000" stroke-width="0.15">4</tspan></text>
<text y="407"><tspan x="23.875" font-size="11.75" stroke="#000" stroke-width="0.15">4</tspan><tspan x="30.125">6</tspan><tspan x="37.875" font-size="11.75" stroke="#000" stroke-width="0.15">4</tspan><tspan x="43.875" stroke="#000" stroke-width="0.45">.</tspan><tspan x="51.125">h</tspan><tspan x="58.125">2</tspan><tspan x="65.125">6</tspan><tspan x="72.875" font-size="11.75" stroke="#000" stroke-width="0.15">4</tspan><tspan x="78.875" font-size="11" stroke="#000" stroke-width="0.15">r</tspan><tspan x="86.375" font-size="11.25" stroke="#000" stroke-width="0.3">e</tspan><tspan x="93.125">f</tspan></text>
<text y="399" fill="#2626ae"><tspan x="134.875" font-size="11.75" stroke="#2626ae" stroke-width="0.15">4</tspan></text>
<text y="417"><tspan x="134.875" font-size="11.75" stroke="#000" stroke-width="0.15">4</tspan></text>
<text y="452"><tspan x="23.875" font-size="11.75" stroke="#000" stroke-width="0.15">4</tspan><tspan x="30.125">7</tspan><tspan x="37.125">1</tspan><tspan x="43.875" stroke="#000" stroke-width="0.45">.</tspan><tspan x="51.375" font-size="11.5">o</tspan><tspan x="58.625" font-size="11" stroke="#000" stroke-width="0.2">m</tspan><tspan x="65.375" font-size="11.5">n</tspan><tspan x="72.375" font-size="11.25" stroke="#000" stroke-width="0.3">e</tspan><tspan x="79.125" font-size="11.25" stroke="#000" stroke-width="0.3">t</tspan><tspan x="86.125" font-size="11.75">p</tspan><tspan x="93.125" font-size="11.75">p</tspan></text>
<text y="444" fill="#2626ae"><tspan x="134.875" font-size="11.75" stroke="#2626ae" stroke-width="0.15">4</tspan></text>
<text y="462"><tspan x="134.875" font-size="11.75" stroke="#000" stroke-width="0.15">4</tspan></text>
<text y="497"><tspan x="37.875" font-size="11.75" stroke="#000" stroke-width="0.15">4</tspan><tspan x="44.125">7</tspan><tspan x="51.125">3</tspan><tspan x="57.875" stroke="#000" stroke-width="0.45">.</tspan><tspan x="65.625" font-size="11.5" stroke="#000" stroke-width="0.15">a</tspan><tspan x="72.375" font-size="11.25" stroke="#000" stroke-width="0.3">s</tspan><tspan x="79.125" font-size="11.25" stroke="#000" stroke-width="0.3">t</tspan><tspan x="86.625" font-size="11.5" stroke="#000" stroke-width="0.15">a</tspan><tspan x="92.875" font-size="11" stroke="#000" stroke-width="0.15">r</tspan></text>
<text y="489" fill="#2626ae"><tspan x="134.875" font-size="11.75" stroke="#2626ae" stroke-width="0.15">4</tspan></text>
<text y="507"><tspan x="134.875" font-size="11.75" stroke="#000" stroke-width="0.15">4</tspan></text>
<text y="542"><tspan x="9.875" font-size="11.75" stroke="#000" stroke-width="0.15">4</tspan><tspan x="16.125">8</tspan><tspan x="23.125">3</tspan><tspan x="29.875" stroke="#000" stroke-width="0.45">.</tspan><tspan x="37.125">x</tspan><tspan x="44.625" font-size="11.5" stroke="#000" stroke-width="0.15">a</tspan><tspan x="51.125" font-size="12">l</tspan><tspan x="58.625" font-size="11.5" stroke="#000" stroke-width="0.15">a</tspan><tspan x="65.375" font-size="11.5">n</tspan><tspan x="72.375" font-size="11.5" stroke="#000" stroke-width="0.15">c</tspan><tspan x="79.125" font-size="12">b</tspan><tspan x="86.625" font-size="11" stroke="#000" stroke-width="0.2">m</tspan><tspan x="93.125">k</tspan></text>
<text y="543"><tspan x="134.875" font-size="11.75" stroke="#000" stroke-width="0.15">4</tspan></text>
<text y="574"><tspan x="252.375" font-size="12">S</tspan><tspan x="259.375" y="572.5" font-size="11">P</tspan><tspan x="265.875" y="574">E</tspan><tspan x="273.125" font-size="12.5">C</tspan><tspan x="280.375" font-size="11.75" stroke="#000" stroke-width="0.3">i</tspan><tspan x="287.375" font-size="11.5">n</tspan><tspan x="294.125" font-size="11.25" stroke="#000" stroke-width="0.3">t</tspan><tspan x="301.375" y="572.5" font-size="11" stroke="#000" stroke-width="0.45">_</tspan><tspan x="307.875" y="574" font-size="11" stroke="#000" stroke-width="0.15">r</tspan><tspan x="315.625" font-size="11.5" stroke="#000" stroke-width="0.15">a</tspan><tspan x="322.125" font-size="11.25" stroke="#000" stroke-width="0.3">t</tspan><tspan x="329.375" font-size="11.25" stroke="#000" stroke-width="0.3">e</tspan><tspan x="336.375" y="572.5" font-size="11" stroke="#000" stroke-width="0.45">_</tspan><tspan x="343.125" y="574" font-size="12">b</tspan><tspan x="350.625" font-size="11.5" stroke="#000" stroke-width="0.15">a</tspan><tspan x="357.375" font-size="11.25" stroke="#000" stroke-width="0.3">s</tspan><tspan x="364.375" font-size="11.25" stroke="#000" stroke-width="0.3">e</tspan><tspan x="371.125">2</tspan><tspan x="378.125" font-size="12.75" stroke="#000" stroke-width="0.15">0</tspan><tspan x="385.125" font-size="12.75" stroke="#000" stroke-width="0.15">0</tspan><tspan x="392.125">6</tspan><tspan x="399.125"> </tspan><tspan x="406.125">=</tspan><tspan x="413.125"> </tspan><tspan x="420.125">1</tspan><tspan x="427.125">2</tspan><tspan x="434.125">2</tspan></text>
<text y="596" fill="#2626ae"><tspan x="171.375" font-size="12">S</tspan><tspan x="178.375" y="594.5" font-size="11">P</tspan><tspan x="184.875" y="596">E</tspan><tspan x="192.125" font-size="12.5">C</tspan><tspan x="199.375" font-size="11.75" stroke="#2626ae" stroke-width="0.3">i</tspan><tspan x="206.375" font-size="11.5">n</tspan><tspan x="213.125" font-size="11.25" stroke="#2626ae" stroke-width="0.3">t</tspan><tspan x="220.375" y="594.5" font-size="11" stroke="#2626ae" stroke-width="0.45">_</tspan><tspan x="226.875" y="596" font-size="11" stroke="#2626ae" stroke-width="0.15">r</tspan><tspan x="234.625" font-size="11.5" stroke="#2626ae" stroke-width="0.15">a</tspan><tspan x="241.125" font-size="11.25" stroke="#2626ae" stroke-width="0.3">t</tspan><tspan x="248.375" font-size="11.25" stroke="#2626ae" stroke-width="0.3">e</tspan><tspan x="255.125">2</tspan><tspan x="262.125" font-size="12.75" stroke="#2626ae" stroke-width="0.15">0</tspan><tspan x="269.125" font-size="12.75" stroke="#2626ae" stroke-width="0.15">0</tspan><tspan x="276.125">6</tspan><tspan x="283.125"> </tspan><tspan x="290.125">=</tspan><tspan x="297.125"> </tspan><tspan x="304.125">1</tspan><tspan x="311.125">2</tspan><tspan x="318.125">9</tspan></text>
</g>
</svg>
</body></html>
